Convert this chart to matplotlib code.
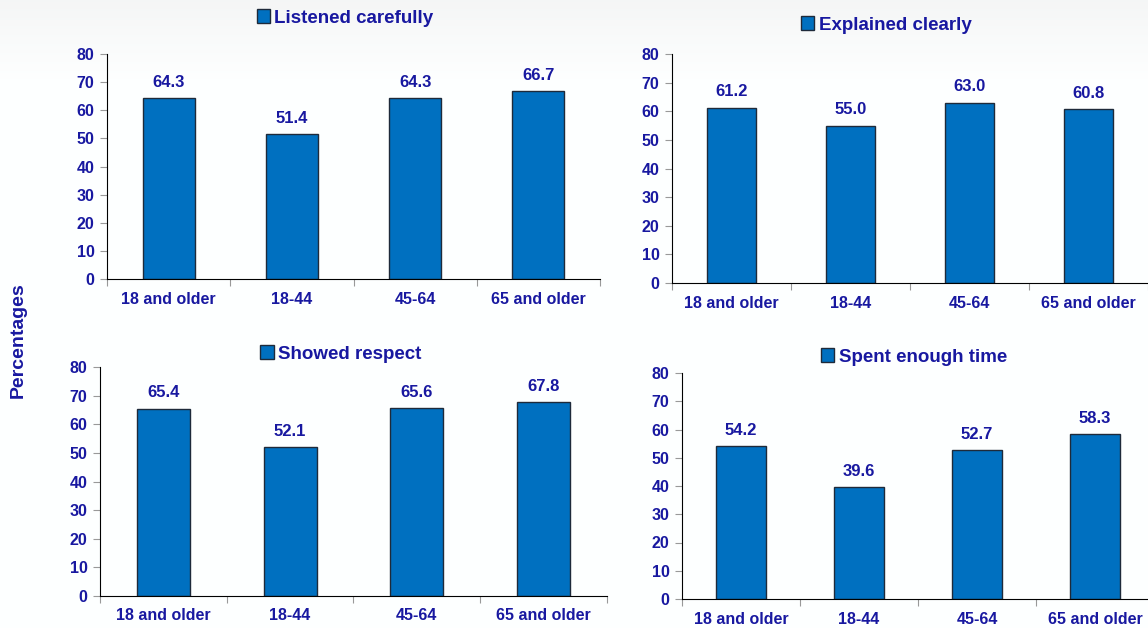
import numpy as np
import matplotlib
matplotlib.use("Agg")
import matplotlib.pyplot as plt

plt.rcParams['font.family'] = ['Liberation Sans', 'DejaVu Sans']
plt.rcParams['font.weight'] = 'bold'

# data
groups = ["18 and older", "18-44", "45-64", "65 and older"]
listened = [64.3, 51.4, 64.3, 66.7]
explained = [61.2, 55.0, 63.0, 60.8]
respect = [65.4, 52.1, 65.6, 67.8]
time_spent = [54.2, 39.6, 52.7, 58.3]
titles = ["Listened carefully", "Explained clearly", "Showed respect", "Spent enough time"]
yticks = [0, 10, 20, 30, 40, 50, 60, 70, 80]

txt = "#1818A0"
bar_col = "#0070C0"
edge_col = "#1E2A3A"

W, H = 1148, 628
fig = plt.figure(figsize=(W / 100, H / 100), dpi=100)

# faint gradient band at the top of the background
bg = fig.add_axes([0, 0, 1, 1], zorder=-1)
grad = np.ones((H, 1))
grad[:80, 0] = np.linspace(0.965, 1.0, 80)
bg.imshow(np.dstack([grad * 0.995, grad, grad]).clip(0, 1), aspect="auto", extent=[0, 1, 0, 1])
bg.axis("off")

# panel boxes in pixels: left, top, right, bottom ; legend centre (x, y)
boxes = [
    (107, 54, 600, 279, (345, 18)),
    (672, 54, 1148, 283, (886, 25)),
    (100, 367, 607, 596, (341, 354)),
    (682, 373, 1154, 599, (914, 357)),
]
series = [listened, explained, respect, time_spent]

for (l, t, r, b, leg), vals, title in zip(boxes, series, titles):
    ax = fig.add_axes([l / W, 1 - b / H, (r - l) / W, (b - t) / H])
    x = np.arange(len(groups))
    bars = ax.bar(x, vals, width=0.42, color=bar_col, edgecolor=edge_col, linewidth=1, label=title)
    for xi, v in zip(x, vals):
        ax.annotate(f"{v:.1f}", (xi, v), xytext=(0, 6), textcoords="offset points",
                    ha="center", va="bottom", color=txt, fontsize=12, fontweight="bold")
    ax.set_xlim(-0.5, 3.5)
    ax.set_ylim(0, 80)
    ax.set_yticks(yticks)
    ax.set_xticks(np.arange(-0.5, 4.0, 1.0))
    ax.set_xticklabels([])
    ax.set_xticks(x, minor=True)
    ax.set_xticklabels(groups, minor=True)
    ax.tick_params(axis="x", which="major", length=5, color="#999999", direction="out")
    ax.tick_params(axis="x", which="minor", length=0, pad=9, labelsize=11.5, labelcolor=txt)
    ax.tick_params(axis="y", length=5, color="#999999", labelsize=11.5, labelcolor=txt, pad=4)
    for lab in ax.get_xticklabels(minor=True) + ax.get_yticklabels():
        lab.set_fontweight("bold")
    ax.spines["top"].set_visible(False)
    ax.spines["right"].set_visible(False)
    ax.spines["left"].set_color("black")
    ax.spines["bottom"].set_color("black")
    ax.patch.set_alpha(0)
    fig.legend(handles=[bars], labels=[title], loc="center", bbox_to_anchor=(leg[0] / W, 1 - leg[1] / H),
               frameon=False, handlelength=0.7, handleheight=0.7, handletextpad=0.25,
               prop={"size": 13.5, "weight": "bold"}, labelcolor=txt)

fig.text(18 / W, 1 - 340 / H, "Percentages", rotation=90, ha="center", va="center",
         color=txt, fontsize=14, fontweight="bold")

fig.savefig("out.png", dpi=100)
